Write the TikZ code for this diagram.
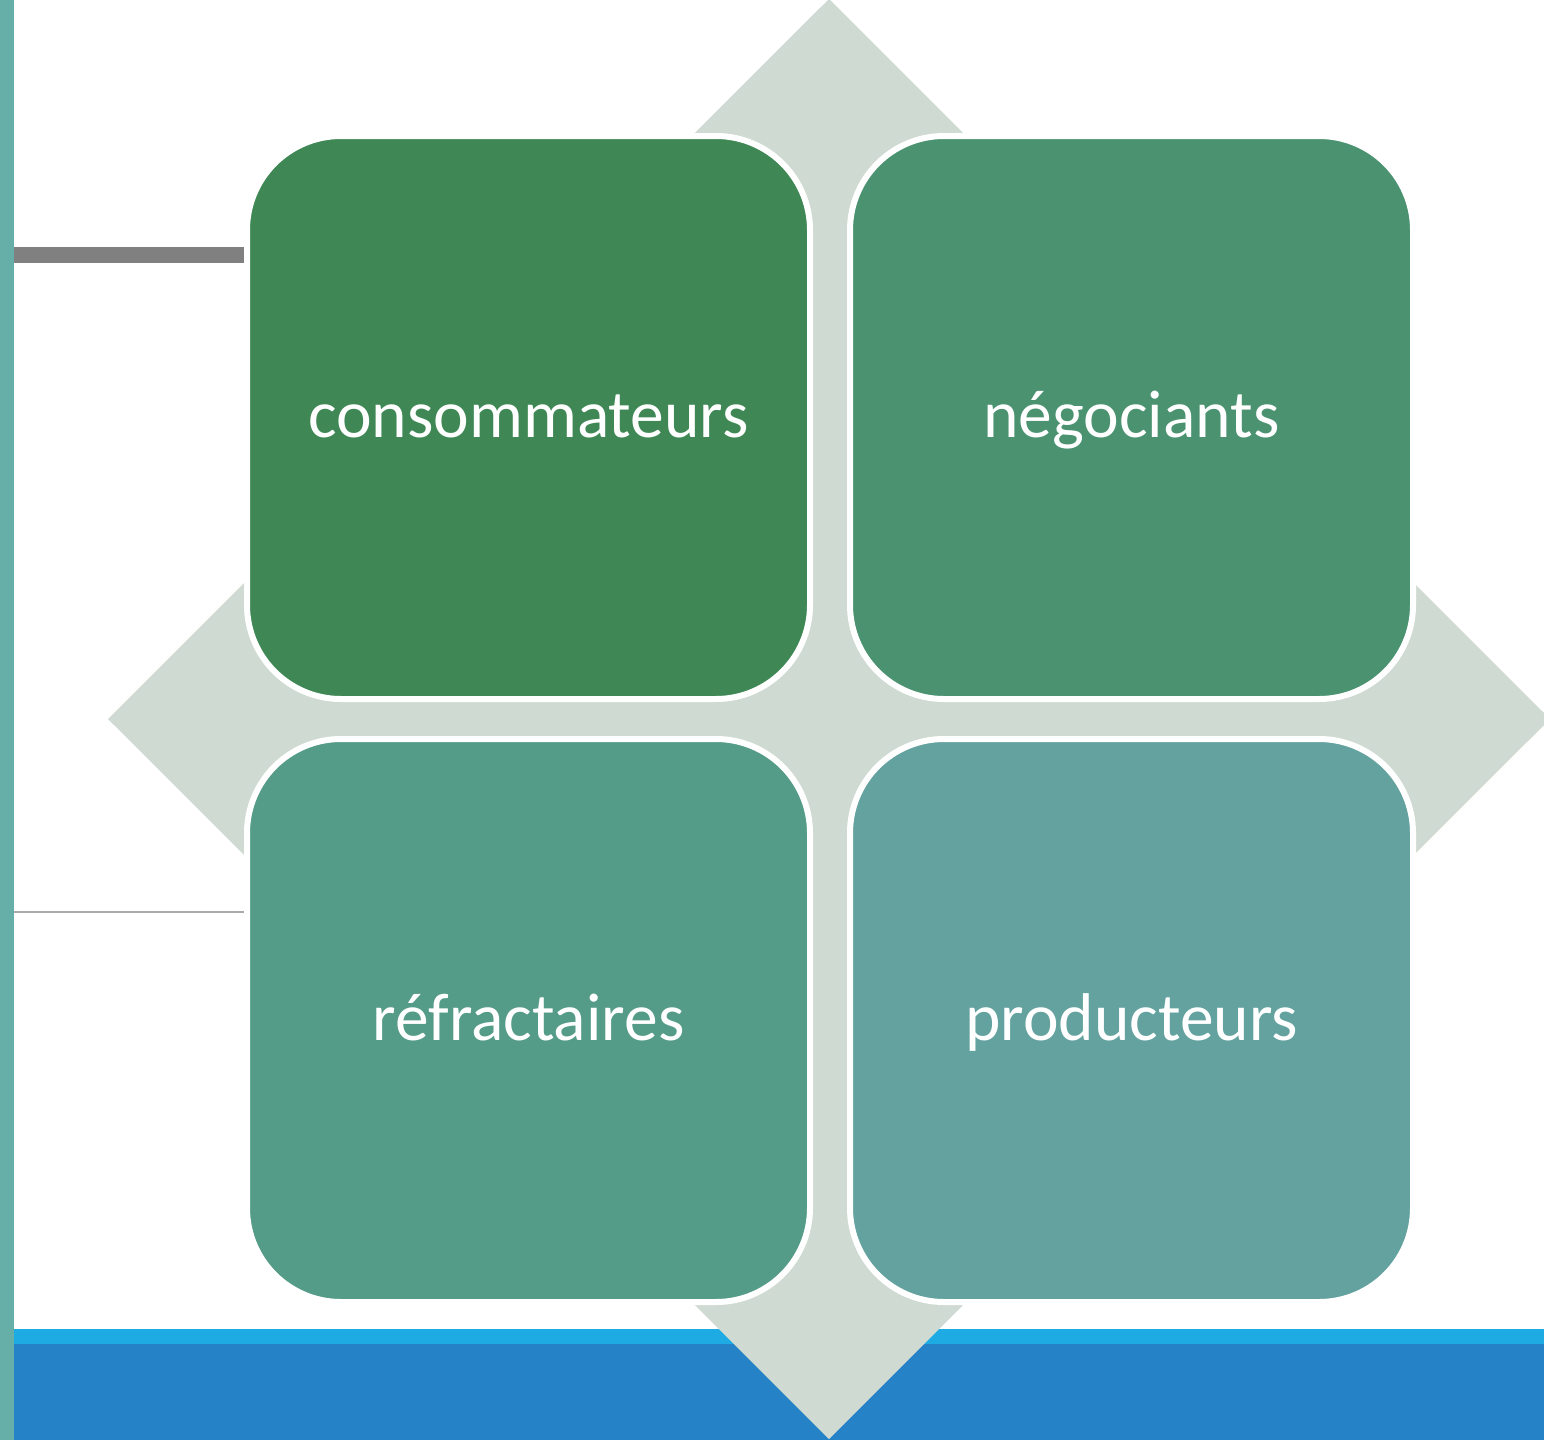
\documentclass[tikz,border=0pt]{standalone}
\usepackage{fontspec}
\setmainfont{Carlito}
\definecolor{cTL}{RGB}{63,136,85}
\definecolor{cTR}{RGB}{74,146,112}
\definecolor{cBL}{RGB}{85,156,136}
\definecolor{cBR}{RGB}{99,162,159}
\definecolor{cDia}{RGB}{207,218,210}
\definecolor{cTeal}{RGB}{102,174,168}
\definecolor{cLBlue}{RGB}{30,171,227}
\definecolor{cDBlue}{RGB}{38,130,198}
\definecolor{cGray}{RGB}{128,128,128}
\definecolor{cLine}{RGB}{170,170,170}
\tikzset{
  quad/.style={draw=white, line width=6pt, rounded corners=94pt,
    minimum width=563pt, minimum height=563pt, inner sep=0pt,
    text=white, font=\fontsize{67.5pt}{80pt}\selectfont,
    text height=39pt, text depth=0pt}
}
\begin{document}
\begin{tikzpicture}[x=1pt,y=-1pt]
\useasboundingbox (0,0) rectangle (1544,1440);
\clip (0,0) rectangle (1544,1440);
% slide decorations
\fill[white] (0,0) rectangle (1544,1440);
\fill[cTeal] (0,0) rectangle (14,1440);
\fill[cGray] (14,247) rectangle (250,263);
\fill[cLine] (14,911) rectangle (250,913);
\fill[cLBlue] (14,1329) rectangle (1544,1344);
\fill[cDBlue] (14,1344) rectangle (1544,1440);
% background diamond
\fill[cDia] (829,-1) -- (1550,719) -- (829,1439) -- (108,719) -- cycle;
% quadrants
\node[quad, fill=cTL] (cons) at (528.5,417.5) {consommateurs};
\node[quad, fill=cTR] (nego) at (1131.5,417.5) {négociants};
\node[quad, fill=cBL] (refr) at (528.5,1020.5) {réfractaires};
\node[quad, fill=cBR] (prod) at (1131.5,1020.5) {producteurs};
\end{tikzpicture}
\end{document}
